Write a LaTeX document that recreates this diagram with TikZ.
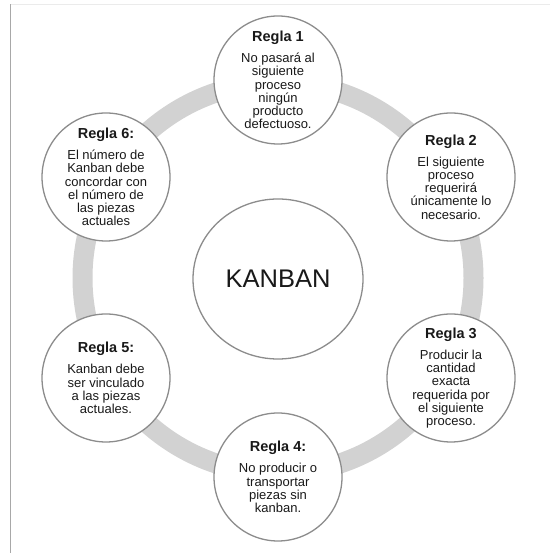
\documentclass[tikz,border=0pt]{standalone}
\usepackage{fontspec}
\setmainfont{Liberation Sans}
\usetikzlibrary{shapes.geometric}
\definecolor{ringgray}{HTML}{D2D2D2}
\definecolor{edgegray}{HTML}{8C8C8C}
\definecolor{framegray}{HTML}{A8A8A8}
\definecolor{framelight}{HTML}{EBEBEB}
\begin{document}
\begin{tikzpicture}[x=1pt,y=1pt,
  rulecircle/.style={circle, draw=edgegray, line width=1.3pt, fill=white, minimum size=128pt, inner sep=0pt},
  ruletext/.style={align=center, inner sep=0pt, font=\fontsize{13}{13.3}\selectfont, text=black!90},
  ruletitle/.style={font=\bfseries\fontsize{14.5}{13.3}\selectfont},
  ringline/.style={draw=ringgray, line width=20pt},
  centerellipse/.style={ellipse, draw=edgegray, line width=1.3pt, fill=white, minimum width=170pt, minimum height=160pt, inner sep=0pt, font=\fontsize{25.5}{28}\selectfont, text=black!90}
]
\useasboundingbox (0,0) rectangle (550,553);
\fill[white] (0,0) rectangle (550,553);
% frame lines
\draw[framelight, line width=0.8pt] (10.5,548.7) -- (550,548.7);
\draw[framegray, line width=1pt] (10.5,0) -- (10.5,549);
% ring
\coordinate (ringc) at (278,275);
\draw[ringline] (ringc) circle[radius=195.5];
% center
\node[centerellipse] (kanban) at (278,274) {KANBAN};
% rule circles
\node[rulecircle] (r1) at (278,473) {};
\node[rulecircle] (r2) at (451,376) {};
\node[rulecircle] (r3) at (451,175) {};
\node[rulecircle] (r4) at (278,76) {};
\node[rulecircle] (r5) at (106,175) {};
\node[rulecircle] (r6) at (106,376) {};
% texts
\node[ruletext] (t1) at (r1.center) {{\bfseries\fontsize{14.5}{13.3}\selectfont Regla 1}\\[7.7pt]No pasará al\\siguiente\\proceso\\ningún\\producto\\defectuoso.};
\node[ruletext] (t2) at (r2.center) {{\bfseries\fontsize{14.5}{13.3}\selectfont Regla 2}\\[7.7pt]El siguiente\\proceso\\requerirá\\únicamente lo\\necesario.};
\node[ruletext] (t3) at (r3.center) {{\bfseries\fontsize{14.5}{13.3}\selectfont Regla 3}\\[7.7pt]Producir la\\cantidad\\exacta\\requerida por\\el siguiente\\proceso.};
\node[ruletext] (t4) at (r4.center) {{\bfseries\fontsize{14.5}{13.3}\selectfont Regla 4:}\\[7.7pt]No producir o\\transportar\\piezas sin\\kanban.};
\node[ruletext] (t5) at (r5.center) {{\bfseries\fontsize{14.5}{13.3}\selectfont Regla 5:}\\[7.7pt]Kanban debe\\ser vinculado\\a las piezas\\actuales.};
\node[ruletext] (t6) at (r6.center) {{\bfseries\fontsize{14.5}{13.3}\selectfont Regla 6:}\\[7.7pt]El número de\\Kanban debe\\concordar con\\el número de\\las piezas\\actuales};
\end{tikzpicture}
\end{document}
